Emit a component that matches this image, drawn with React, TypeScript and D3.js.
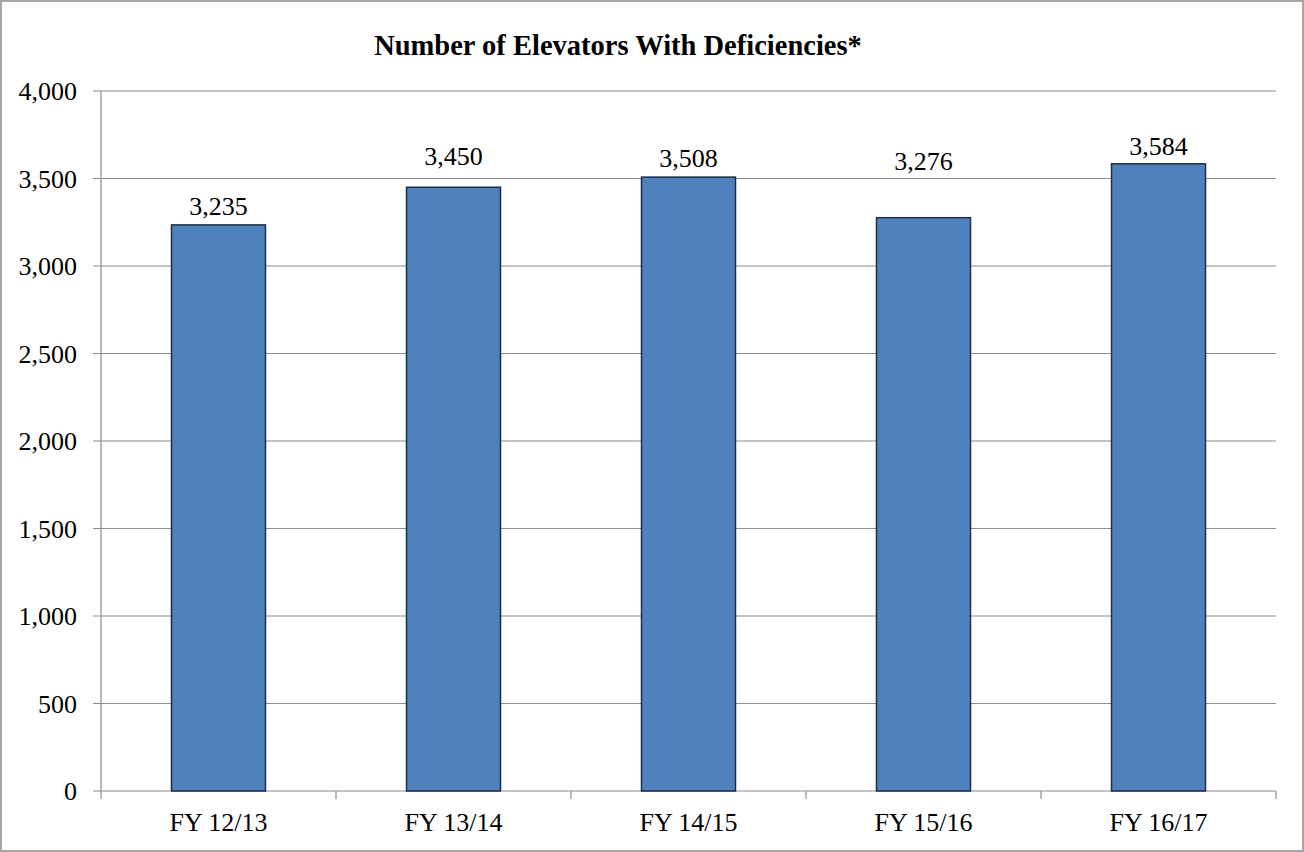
import * as d3 from "d3";
import { useEffect, useRef } from "react";

const categories = ["FY 12/13", "FY 13/14", "FY 14/15", "FY 15/16", "FY 16/17"];
const values = [3235, 3450, 3508, 3276, 3584];
const yTicks = [0, 500, 1000, 1500, 2000, 2500, 3000, 3500, 4000];
const title = "Number of Elevators With Deficiencies*";

const W = 1304;
const H = 852;
// distance (px) from bar top to label baseline, as placed in the original
const labelGap = [10, 22, 10, 48, 9];

const App = () => {
  const svgRef = useRef<SVGSVGElement>(null);

  useEffect(() => {
    if (!svgRef.current) return;
    const svg = d3.select(svgRef.current);
    svg.selectAll("*").remove();

    const margin = { top: 91, right: 28, bottom: 61, left: 101 };
    const font = "'Liberation Serif', 'Times New Roman', serif";

    // Outer frame
    svg.append("rect")
      .attr("x", 1)
      .attr("y", 1)
      .attr("width", W - 2)
      .attr("height", H - 2)
      .attr("fill", "white")
      .attr("stroke", "#a6a6a6")
      .attr("stroke-width", 2);

    const x = d3.scaleBand()
      .domain(categories)
      .range([margin.left, W - margin.right])
      .paddingInner(0.6)
      .paddingOuter(0.3);

    const y = d3.scaleLinear()
      .domain([0, 4000])
      .range([H - margin.bottom, margin.top]);

    // Gridlines + y tick labels
    yTicks.forEach(t => {
      svg.append("line")
        .attr("x1", margin.left - 8)
        .attr("x2", W - margin.right)
        .attr("y1", y(t))
        .attr("y2", y(t))
        .attr("stroke", "#8c8c8c")
        .attr("stroke-width", 1.2);

      svg.append("text")
        .attr("x", margin.left - 24)
        .attr("y", y(t))
        .attr("dy", "0.35em")
        .attr("text-anchor", "end")
        .attr("font-family", font)
        .attr("font-size", 26)
        .attr("fill", "#000")
        .text(d3.format(",")(t));
    });

    // Y axis line
    svg.append("line")
      .attr("x1", margin.left)
      .attr("x2", margin.left)
      .attr("y1", margin.top)
      .attr("y2", y(0))
      .attr("stroke", "#8c8c8c")
      .attr("stroke-width", 1.2);

    // X tick marks at category boundaries
    const bandW = (W - margin.right - margin.left) / categories.length;
    d3.range(categories.length + 1).forEach(i => {
      const xx = margin.left + i * bandW;
      svg.append("line")
        .attr("x1", xx)
        .attr("x2", xx)
        .attr("y1", y(0))
        .attr("y2", y(0) + 8)
        .attr("stroke", "#8c8c8c")
        .attr("stroke-width", 1.2);
    });

    // Bars
    svg.selectAll(".bar")
      .data(values)
      .join("rect")
      .attr("class", "bar")
      .attr("x", (_, i) => x(categories[i])!)
      .attr("y", d => y(d))
      .attr("width", x.bandwidth())
      .attr("height", d => y(0) - y(d))
      .attr("fill", "#4f81bd")
      .attr("stroke", "#1c2f4a")
      .attr("stroke-width", 1.5);

    // Value labels
    svg.selectAll(".val")
      .data(values)
      .join("text")
      .attr("class", "val")
      .attr("x", (_, i) => x(categories[i])! + x.bandwidth() / 2)
      .attr("y", (d, i) => y(d) - labelGap[i])
      .attr("text-anchor", "middle")
      .attr("font-family", font)
      .attr("font-size", 26)
      .attr("fill", "#000")
      .text(d => d3.format(",")(d));

    // Category labels
    categories.forEach(c => {
      svg.append("text")
        .attr("x", x(c)! + x.bandwidth() / 2)
        .attr("y", y(0) + 40)
        .attr("text-anchor", "middle")
        .attr("font-family", font)
        .attr("font-size", 26)
        .attr("fill", "#000")
        .text(c);
    });

    // Title
    svg.append("text")
      .attr("x", 618)
      .attr("y", 55)
      .attr("text-anchor", "middle")
      .attr("font-family", font)
      .attr("font-size", 28.5)
      .attr("font-weight", "bold")
      .attr("fill", "#000")
      .text(title);
  }, []);

  return (
    <div style={{ position: "absolute", left: 0, top: 0, width: W, height: H }}>
      <svg ref={svgRef} width={W} height={H} style={{ display: "block" }} />
    </div>
  );
};

export default App;
